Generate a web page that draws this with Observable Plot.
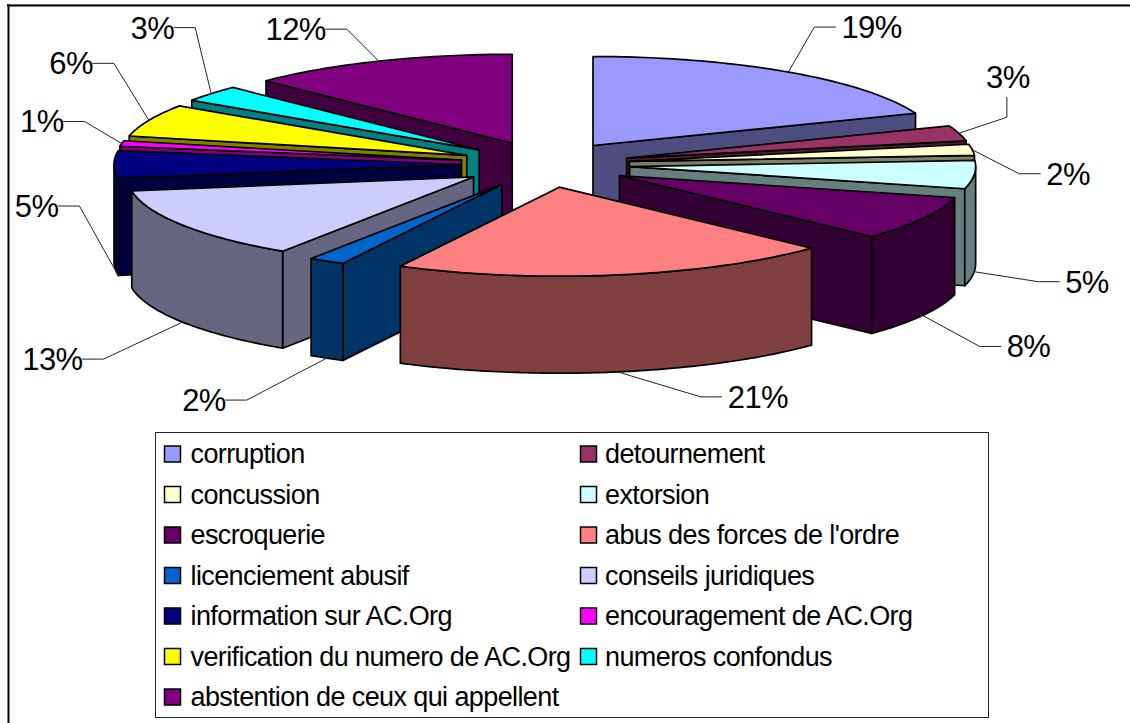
<!DOCTYPE html>
<html><head><meta charset="utf-8">
<script src="https://cdn.jsdelivr.net/npm/d3@7"></script>
<script src="https://cdn.jsdelivr.net/npm/@observablehq/plot@0.6"></script>
<style>html,body{margin:0;padding:0;background:#fff}svg{display:block}</style>
</head><body><div id="chart"></div>
<script>
const categories = ["corruption","detournement","concussion","extorsion","escroquerie","abus des forces de l'ordre","licenciement abusif","conseils juridiques","information sur AC.Org","encouragement de AC.Org","verification du numero de AC.Org","numeros confondus","abstention de ceux qui appellent"];
// slice sizes as measured from the angles in the picture
const shares = [19.1,2.8,2,5.1,8,20.6,1.7,13.2,5,1,5.9,3,12.6];
// percentages as printed on the labels
const printed = [19,3,2,5,8,21,2,13,5,1,6,3,12];
const palette = ["#9999FF","#993366","#FFFFCC","#CCFFFF","#660066","#FF8080","#0066CC","#CCCCFF","#000080","#FF00FF","#FFFF00","#00FFFF","#800080"];

// layout of the projected pie
const geom = {cx:544.5, cy:164, ex:85, ey:23, a:346, b:89, depth:97};
// leader elbows relative to the point of the rim they leave from
const elbow = [[26,-45],[48,-16],[47,24],[64,10],[57,31],[83,25],[-80,42],[-79,37],[-38,-68],[-37,-22],[-35,-57],[-16,-66],[-32,-32]];
// where along its slice each leader leaves the rim
const leaderAt = [.5,.5,.5,.5,.5,.5,.5,.5,.05,.5,.5,.5,.5];

const total = d3.sum(shares);
const acc = d3.cumsum(shares);
const slices = shares.map((v,i)=>{
  const t0 = (acc[i]-v)/total*2*Math.PI, t1 = acc[i]/total*2*Math.PI, m=(t0+t1)/2;
  return {i,name:categories[i],color:palette[i],t0,t1,m,
    ax:geom.cx+geom.ex*Math.sin(m), ay:geom.cy-geom.ey*Math.cos(m)};
});
const half = c => {const r=d3.rgb(c); return d3.rgb(r.r/2,r.g/2,r.b/2).formatHex();};
const rim = (s,t) => [s.ax+geom.a*Math.sin(t), s.ay-geom.b*Math.cos(t)];
const faces = [];
function addFace(key,color,pts){pts.forEach(([x,y])=>faces.push({key,color,x,y}));}
const order = [...slices].sort((p,q)=>Math.abs(q.m-Math.PI)-Math.abs(p.m-Math.PI));
for (const s of order){
  const D=geom.depth, w=half(s.color), apex=[s.ax,s.ay], N=Math.max(6,Math.round((s.t1-s.t0)*60));
  const ts=d3.range(N+1).map(k=>s.t0+(s.t1-s.t0)*k/N);
  if (Math.sin(s.t0)<-1e-6){const p=rim(s,s.t0); addFace(s.i+"a",w,[apex,p,[p[0],p[1]+D],[apex[0],apex[1]+D]]);}
  if (Math.sin(s.t1)>1e-6){const p=rim(s,s.t1); addFace(s.i+"b",w,[apex,p,[p[0],p[1]+D],[apex[0],apex[1]+D]]);}
  const lo=Math.max(s.t0,Math.PI/2), hi=Math.min(s.t1,3*Math.PI/2);
  if (hi>lo){
    const n=Math.max(4,Math.round((hi-lo)*60));
    const up=d3.range(n+1).map(k=>rim(s,lo+(hi-lo)*k/n));
    addFace(s.i+"c",w,[...up,...up.slice().reverse().map(([x,y])=>[x,y+D])]);
  }
  addFace(s.i+"t",s.color,[apex,...ts.map(t=>rim(s,t))]);
}
// percentage labels with leaders
const leaders=[], labels=[];
slices.forEach(s=>{
  const t=s.t0+(s.t1-s.t0)*leaderAt[s.i];
  const p=rim(s,t), front=Math.cos(t)<0.01, st=[p[0],p[1]+(front?geom.depth:0)];
  const e=[st[0]+elbow[s.i][0], st[1]+elbow[s.i][1]];
  const vertical=s.i===1, dir=e[0]>st[0]?1:-1;
  const end=vertical?[e[0],e[1]-20]:[e[0]+dir*21,e[1]];
  [st,e,end].forEach(([x,y])=>leaders.push({k:s.i,x,y}));
  const t2=printed[s.i]+"%";
  labels.push(vertical?{x:end[0]+1,y:end[1]-19,t:t2,side:"middle"}
    :{x:end[0]+(dir>0?6:0),y:end[1]+1,t:t2,side:dir>0?"start":"end"});
});
// legend
const legendBox={x1:155.5,x2:988.5,y1:432.5,y2:717.5};
const legend=categories.map((name,i)=>{
  const col=i%2,row=Math.floor(i/2),x=164.5+col*416,y=454+row*40.5;
  return {name,color:palette[i],x,y,tx:x+25.5-col*1.5};
});
const labelMark=side=>Plot.text(labels.filter(d=>d.side===side),{x:"x",y:"y",text:"t",textAnchor:side,fontSize:31,fill:"#000"});
const plot=Plot.plot({
  width:1130,height:723,margin:0,
  x:{domain:[0,1130],range:[0,1130],axis:null},
  y:{domain:[0,723],range:[0,723],axis:null},
  color:{type:"identity"},
  style:{fontFamily:"'Liberation Sans',Arial,sans-serif",background:"#fff",color:"#000"},
  marks:[
    Plot.ruleY([4],{x1:7,x2:1130,stroke:"#ccc",strokeWidth:1}),
    Plot.ruleY([5],{x1:7,x2:1130,stroke:"#000",strokeWidth:2}),
    Plot.ruleX([8],{y1:4,y2:723,stroke:"#000",strokeWidth:2}),
    Plot.line(faces,{x:"x",y:"y",z:"key",fill:"color",stroke:"#000",strokeWidth:1.7,strokeLinejoin:"round",curve:"linear-closed"}),
    Plot.line(leaders,{x:"x",y:"y",z:"k",stroke:"#222",strokeWidth:1}),
    labelMark("start"),labelMark("middle"),labelMark("end"),
    Plot.rect([legendBox],{x1:"x1",x2:"x2",y1:"y1",y2:"y2",fill:"#fff",stroke:"#222",strokeWidth:1}),
    Plot.rect(legend,{x1:"x",x2:d=>d.x+16,y1:d=>d.y-8,y2:d=>d.y+8,fill:"color",stroke:"#000",strokeWidth:1.5}),
    Plot.text(legend,{x:"tx",y:"y",text:"name",textAnchor:"start",fontSize:27,fill:"#000"})
  ]
});
d3.select(plot).selectAll("text").style("letter-spacing","-0.6px");
document.getElementById("chart").append(plot);
</script></body></html>
